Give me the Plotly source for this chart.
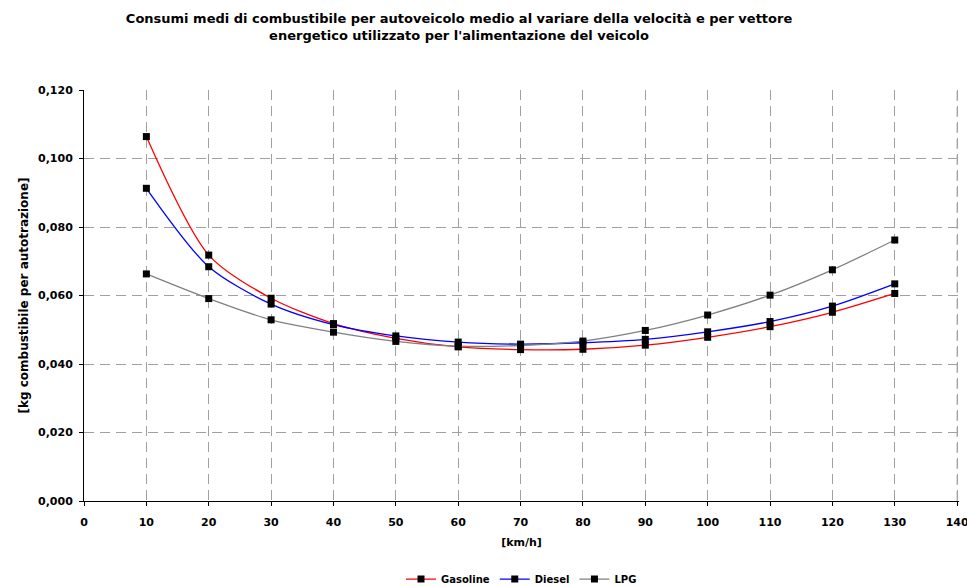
import plotly.graph_objects as go

speed = [10, 20, 30, 40, 50, 60, 70, 80, 90, 100, 110, 120, 130]
gasoline = [0.1064, 0.0718, 0.0592, 0.0518, 0.0475, 0.0450, 0.0442, 0.0443, 0.0455, 0.0478, 0.0509, 0.0551, 0.0606]
diesel = [0.0913, 0.0684, 0.0575, 0.0515, 0.0482, 0.0464, 0.0458, 0.0462, 0.0472, 0.0494, 0.0524, 0.0569, 0.0634]
lpg = [0.0663, 0.0591, 0.0529, 0.0493, 0.0466, 0.0452, 0.0454, 0.0467, 0.0498, 0.0543, 0.0601, 0.0675, 0.0762]
x_max = 140

series = [("Gasoline", gasoline, "#ff0000"), ("Diesel", diesel, "#0000ff"), ("LPG", lpg, "#808080")]

fig = go.Figure()
for name, vals, col in series:
    fig.add_trace(go.Scatter(
        x=speed, y=vals, name=name, mode="lines+markers",
        line=dict(color=col, width=1.3, shape="spline", smoothing=0.8),
        marker=dict(symbol="square", size=7, color="black"),
    ))

# gridline at the right end of the x range (plotly omits it at the edge)
fig.add_shape(type="line", xref="x", yref="paper", x0=x_max, x1=x_max, y0=0, y1=1,
              line=dict(color="#a0a0a0", width=1, dash="10px,6px"), layer="above")

font = "DejaVu Sans, Liberation Sans, sans-serif"
grid = dict(showgrid=True, gridcolor="#a0a0a0", griddash="10px,6px", gridwidth=1)
fig.update_layout(
    width=967, height=586,
    margin=dict(l=84, r=8, t=90, b=85, autoexpand=False),
    paper_bgcolor="white", plot_bgcolor="white",
    separators=",.",
    font=dict(family=font, size=11, color="black"),
    title=dict(
        text="<b>Consumi medi di combustibile per autoveicolo medio al variare della velocità e per vettore<br>energetico utilizzato per l'alimentazione del veicolo</b>",
        xref="container", x=0.4747, xanchor="center",
        yref="container", y=0.96, yanchor="middle",
        font=dict(family=font, size=13, color="black"),
    ),
    xaxis=dict(
        range=[0, x_max + 0.3], dtick=10, tick0=0, automargin=False,
        showline=True, linecolor="black", linewidth=1,
        ticks="outside", ticklen=4, tickcolor="black",
        ticklabelstandoff=7, ticklabeloverflow="allow",
        zeroline=False, **grid,
        tickfont=dict(family=font, size=11, color="black", weight="bold"),
        title=dict(text="<b>[km/h]</b>", font=dict(family=font, size=11), standoff=10),
    ),
    yaxis=dict(
        range=[0, 0.12], dtick=0.02, tick0=0, tickformat=".3f", automargin=False,
        showline=True, linecolor="black", linewidth=1,
        ticks="outside", ticklen=4, tickcolor="black",
        ticklabelstandoff=4,
        zeroline=False, **grid,
        tickfont=dict(family=font, size=11, color="black", weight="bold"),
        title=dict(text="<b>[kg combustibile per autotrazione]</b>", font=dict(family=font, size=12), standoff=6),
    ),
    legend=dict(
        orientation="h", x=0.5, xanchor="center", y=-0.19, yanchor="middle",
        font=dict(family=font, size=10, color="black", weight="bold"),
        itemwidth=30, tracegroupgap=0,
    ),
)

fig.write_html("out.html")
